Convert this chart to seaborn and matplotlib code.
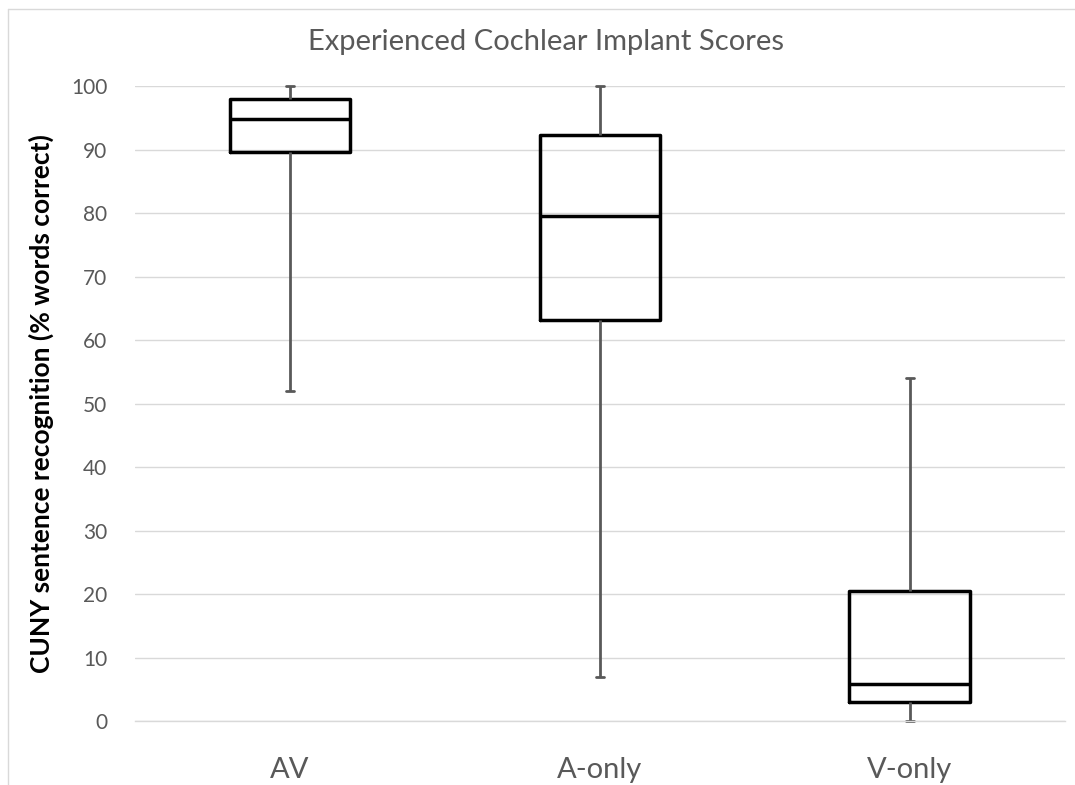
import pandas as pd
import matplotlib.pyplot as plt
import matplotlib.lines as mlines
import seaborn as sns

# Five-number summaries (min, q1, median, q3, max)
groups = ['AV', 'A-only', 'V-only']
av_stats = [52.0, 89.6, 94.8, 98.0, 100.0]
aonly_stats = [6.9, 63.1, 79.5, 92.3, 100.0]
vonly_stats = [0.0, 3.0, 5.9, 20.4, 54.0]
y_ticks = list(range(0, 101, 10))

df = pd.DataFrame({
    'group': [g for g in groups for _ in range(5)],
    'score': av_stats + aonly_stats + vonly_stats,
})

sns.set_style('white')
plt.rcParams['font.family'] = ['Lato', 'DejaVu Sans']

fig = plt.figure(figsize=(10.75, 7.85), dpi=100)
ax = fig.add_axes([0.1256, 0.0815, 0.865, 0.8089])

# whis=(0, 100) so whiskers reach the min / max values
sns.boxplot(data=df, x='group', y='score', order=groups, whis=(0, 100),
            width=0.39, fill=False, color='black', linewidth=2.5,
            whiskerprops=dict(color='#595959', linewidth=2),
            capprops=dict(color='#595959', linewidth=2),
            medianprops=dict(color='black', linewidth=2.5),
            capwidths=0.025, ax=ax)

ax.set_ylim(0, 100)
ax.set_xlim(-0.5, 2.5)
ax.set_yticks(y_ticks)
ax.yaxis.grid(True, color='#d9d9d9', linewidth=1)
ax.set_axisbelow(True)
for s in ['top', 'right', 'left']:
    ax.spines[s].set_visible(False)
ax.spines['bottom'].set_color('#d9d9d9')
ax.spines['bottom'].set_linewidth(1)
ax.tick_params(axis='y', length=0, labelsize=15, labelcolor='#595959', pad=20)
ax.tick_params(axis='x', length=0, labelsize=21, labelcolor='#595959', pad=26)
ax.set_xlabel('')
ax.set_ylabel('CUNY sentence recognition (% words correct)', fontsize=19,
              fontweight='bold', color='black', labelpad=12)
fig.suptitle('Experienced Cochlear Implant Scores', fontsize=21,
             color='#595959', x=0.508, y=1 - 42 / 785, va='center')
for art in ax.get_lines() + ax.patches:
    art.set_clip_on(False)

# light chart-area border
fig.add_artist(mlines.Line2D([8 / 1075, 1], [1 - 9 / 785, 1 - 9 / 785],
                             transform=fig.transFigure, color='#d9d9d9', lw=1))
fig.add_artist(mlines.Line2D([8 / 1075, 8 / 1075], [0, 1 - 9 / 785],
                             transform=fig.transFigure, color='#d9d9d9', lw=1))

fig.savefig('out.png', dpi=100)
plt.close(fig)
